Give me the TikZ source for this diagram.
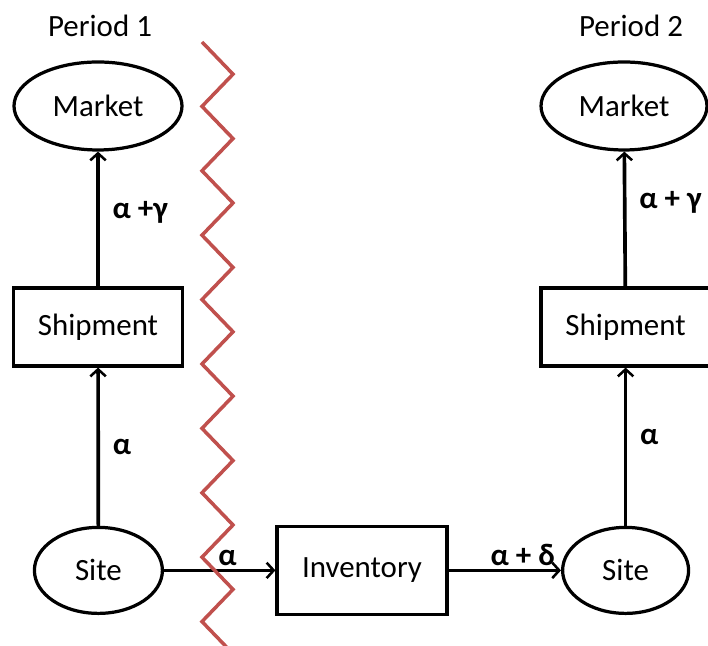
\documentclass[tikz,border=0pt]{standalone}
\usepackage{fontspec}
\setmainfont{Carlito}
\usepackage{xcolor}
\usetikzlibrary{shapes.geometric, arrows.meta, positioning}
\definecolor{cutred}{HTML}{C0504D}

\begin{document}
\begin{tikzpicture}[
  every node/.style={font=\fontsize{22}{26}\selectfont},
  oval/.style={ellipse, draw, line width=2.3pt, inner sep=0pt},
  box/.style={rectangle, draw, line width=2.3pt, inner sep=0pt},
  arrow/.style={-{Straight Barb[length=5pt,width=11pt,line width=1.8pt]}, line width=2.6pt},
  lbl/.style={font=\fontsize{22}{26}\selectfont\bfseries, inner sep=2pt},
  cut/.style={cutred, line width=2.5pt}
]
\useasboundingbox (0,0) rectangle (17.7,16.15);

\node (p1) at (2.5,15.5)    {Period 1};
\node (p2) at (15.775,15.5) {Period 2};

\node[oval, minimum width=4.2cm, minimum height=2.2cm] (mk1) at (2.45,13.5)  {Market};
\node[oval, minimum width=4.15cm, minimum height=2.2cm] (mk2) at (15.6,13.5) {Market};

\node[box, minimum width=4.225cm, minimum height=1.95cm] (sh1) at (2.45,7.975)   {Shipment};
\node[box, minimum width=4.225cm, minimum height=1.95cm] (sh2) at (15.64,7.975)  {Shipment};

\node[oval, minimum width=3.2cm, minimum height=2.15cm]  (st1) at (2.46,1.89)  {Site};
\node[box,  minimum width=4.25cm, minimum height=2.2cm]  (inv) at (9.05,1.89)  {Inventory};
\node[oval, minimum width=3.15cm, minimum height=2.15cm] (st2) at (15.64,1.89) {Site};

\draw[arrow] (sh1) -- node[lbl, right=0.25cm, pos=0.55]{α +γ} (mk1);
\draw[arrow] (st1) -- node[lbl, right=0.25cm]{α} (sh1);
\draw[arrow] (sh2) -- node[lbl, right=0.25cm, pos=0.62]{α + γ} (mk2);
\draw[arrow] (st2) -- node[lbl, right=0.25cm, pos=0.56]{α} (sh2);
\draw[arrow] (st1) -- node[lbl, above, pos=0.57]{α} (inv);
\draw[arrow] (inv) -- node[lbl, above, pos=0.66]{α + δ} (st2);

% period cut
\draw[cut] (5.05,15.1) \foreach \i in {1,...,20} {
  -- ({ifthenelse(isodd(\i),5.825,5.05)}, {15.1-\i*0.805}) };
\end{tikzpicture}
\end{document}
